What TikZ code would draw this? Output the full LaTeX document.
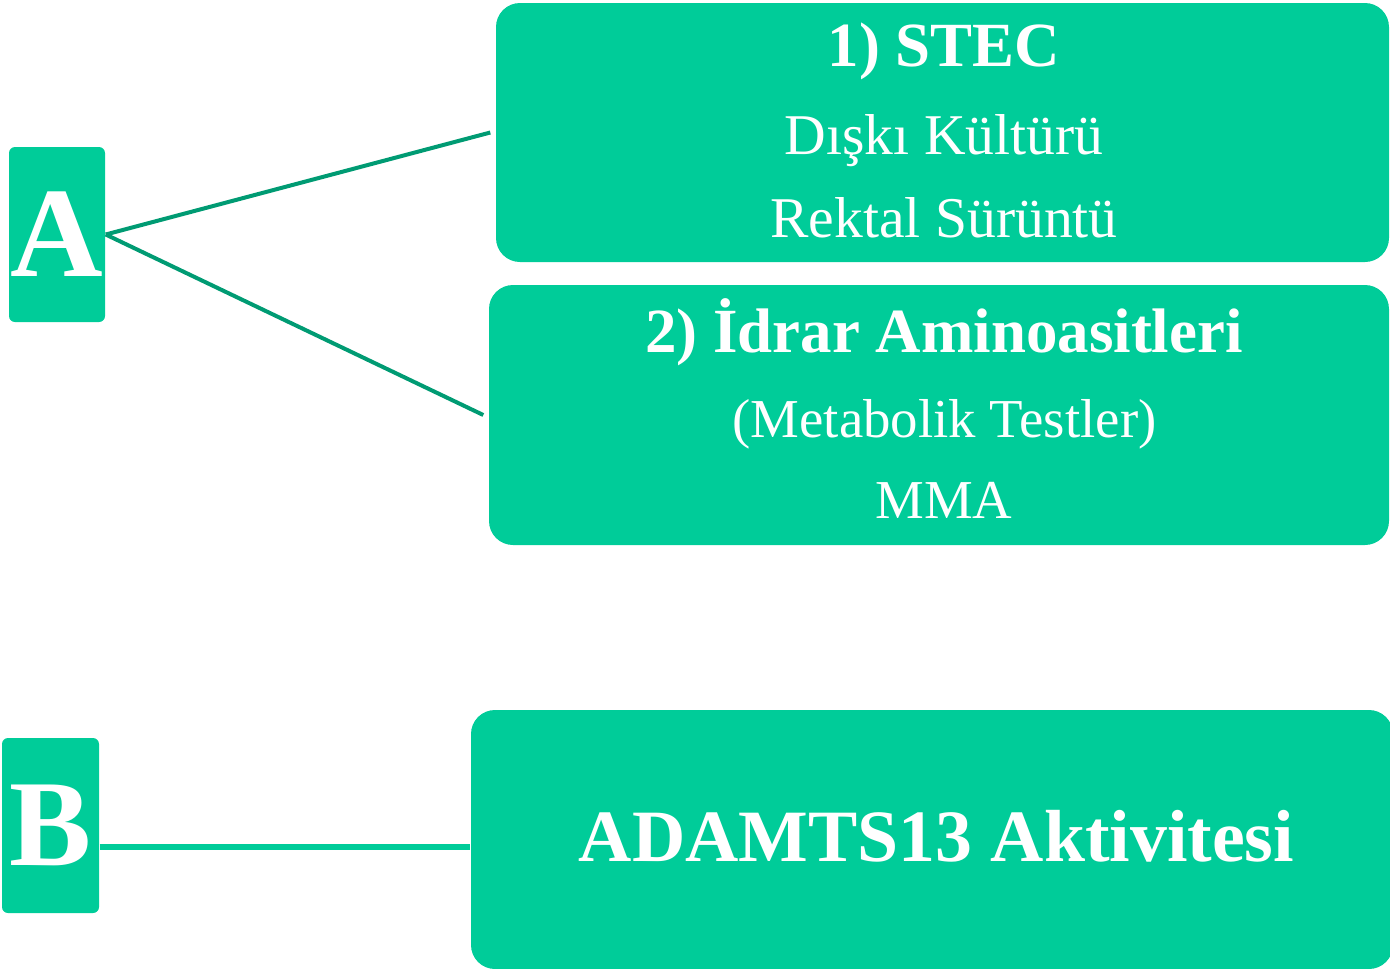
\documentclass[tikz,border=0pt]{standalone}
\usepackage{fontspec}
\setmainfont{Liberation Serif}
\definecolor{yesil}{RGB}{0,204,153}
\definecolor{koyuyesil}{RGB}{0,155,115}
\begin{document}
\begin{tikzpicture}[
        harf/.style={
            fill=yesil,
            rounded corners=0.06cm,
            inner sep=0pt,
            minimum width=0.96cm,
            minimum height=1.75cm,
            text=white,
            font=\fontsize{36.5}{40}\selectfont\bfseries
        },
        kutu/.style={
            fill=yesil,
            rounded corners=0.24cm,
            inner sep=0pt,
            minimum width=8.93cm,
            minimum height=2.59cm
        },
        baslik/.style={anchor=base, text=white, inner sep=0pt,
            font=\fontsize{17.9}{20}\selectfont\bfseries},
        metin/.style={anchor=base, text=white, inner sep=0pt,
            font=\fontsize{16.4}{19}\selectfont},
        baglanti/.style={draw=koyuyesil, line width=0.04cm},
        duzbaglanti/.style={draw=yesil, line width=0.06cm}
    ]
        \useasboundingbox (0,0) rectangle (13.9,-9.69);

        % sol harfler
        \node[harf] (A) at (0.57,-2.345) {A};
        \node[harf, minimum width=0.97cm, font=\fontsize{35}{40}\selectfont\bfseries] (B) at (0.505,-8.255) {B};

        % kutular
        \node[kutu] (stec) at (9.425,-1.325) {};
        \node[kutu, minimum width=9cm, minimum height=2.6cm] (idrar) at (9.39,-4.15) {};
        \node[kutu, minimum width=9.22cm, minimum height=2.59cm] (adamts) at (9.32,-8.395) {};

        % yazilar
        \node[baslik] (stecbaslik) at (9.44,-0.66) {1) STEC};
        \node[metin] (diski) at (9.44,-1.54) {Dışkı Kültürü};
        \node[metin] (rektal) at (9.44,-2.37) {Rektal Sürüntü};

        \node[baslik] (idrarbaslik) at (9.44,-3.52) {2) İdrar Aminoasitleri};
        \node[metin, font=\fontsize{15.6}{18}\selectfont] (metabolik) at (9.445,-4.37) {(Metabolik Testler)};
        \node[metin, font=\fontsize{15.6}{18}\selectfont] (mma) at (9.44,-5.18) {MMA};

        \node[baslik, font=\fontsize{21}{24}\selectfont\bfseries] (adamtsyazi) at (9.365,-8.61) {ADAMTS13 Aktivitesi};

        % baglantilar
        \coordinate (bhat) at (0,-8.47);
        \draw[baglanti] (A.east) -- ([xshift=-0.05cm]stec.west);
        \draw[baglanti] (A.east) -- ([xshift=-0.05cm]idrar.west);
        \draw[duzbaglanti] (B.east |- bhat) -- (adamts.west |- bhat);
    \end{tikzpicture}
\end{document}
